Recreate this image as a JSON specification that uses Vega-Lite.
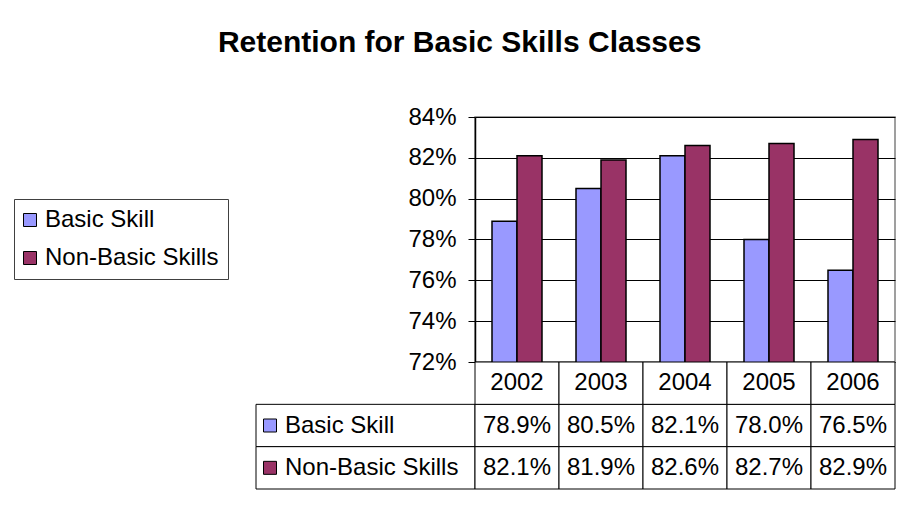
{
  "$schema": "https://vega.github.io/schema/vega-lite/v6.json",
  "padding": {"left": 13, "top": 28, "right": 12, "bottom": 10},
  "title": {"text": "Retention for Basic Skills Classes", "fontSize": 30, "fontWeight": "bold", "font": "Liberation Sans", "color": "black", "anchor": "middle", "frame": "bounds", "offset": 46, "dx": 5},
  "data": {"values": [
    {"year": "2002", "series": "Basic Skill", "value": 0.789},
    {"year": "2003", "series": "Basic Skill", "value": 0.805},
    {"year": "2004", "series": "Basic Skill", "value": 0.821},
    {"year": "2005", "series": "Basic Skill", "value": 0.780},
    {"year": "2006", "series": "Basic Skill", "value": 0.765},
    {"year": "2002", "series": "Non-Basic Skills", "value": 0.821},
    {"year": "2003", "series": "Non-Basic Skills", "value": 0.819},
    {"year": "2004", "series": "Non-Basic Skills", "value": 0.826},
    {"year": "2005", "series": "Non-Basic Skills", "value": 0.827},
    {"year": "2006", "series": "Non-Basic Skills", "value": 0.829}
  ]},
  "columns": 2,
  "spacing": 0,
  "bounds": "flush",
  "config": {"view": {"stroke": null}, "font": "Liberation Sans"},
  "concat": [
    {
      "width": 219, "height": 245,
      "mark": {"type": "text", "text": ""},
      "encoding": {}
    },
    {
      "width": 420, "height": 245,
      "view": {"stroke": "#808080", "strokeWidth": 1.5},
      "mark": {"type": "bar", "stroke": "black", "strokeWidth": 1.5, "clip": true},
      "encoding": {
        "x": {"field": "year", "type": "ordinal", "scale": {"paddingInner": 0, "paddingOuter": 0}, "axis": null},
        "xOffset": {"field": "series", "type": "nominal", "scale": {"domain": ["Basic Skill", "Non-Basic Skills"], "paddingInner": 0, "paddingOuter": 0.68}},
        "y": {"field": "value", "type": "quantitative", "scale": {"domain": [0.72, 0.84], "zero": false, "nice": false},
          "axis": {"title": null, "format": ".0%", "values": [0.72, 0.74, 0.76, 0.78, 0.80, 0.82, 0.84], "grid": true, "gridColor": "black", "gridWidth": 1, "gridOpacity": 1, "domainColor": "black", "domainWidth": 1.5, "tickColor": "black", "tickSize": 7, "labelFontSize": 24, "labelColor": "black", "labelFont": "Liberation Sans", "labelPadding": 12}},
        "color": {"field": "series", "type": "nominal", "scale": {"domain": ["Basic Skill", "Non-Basic Skills"], "range": ["#9999FF", "#993366"]},
          "legend": {"orient": "none", "legendX": -242, "legendY": 82, "title": null, "labelFontSize": 24, "labelFont": "Liberation Sans", "labelColor": "black", "labelLimit": 400, "symbolType": "square", "symbolSize": 169, "symbolStrokeColor": "black", "symbolStrokeWidth": 1, "symbolOpacity": 1, "symbolOffset": -5, "strokeColor": "#404040", "fillColor": "white", "padding": 9, "rowPadding": 14, "labelOffset": 3}}
      }
    },
    {
      "width": 219, "height": 127,
      "transform": [{"aggregate": [{"op": "count", "as": "n"}], "groupby": ["series"]}],
      "layer": [
        {
          "mark": {"type": "rect", "fill": "white", "stroke": "black", "strokeWidth": 1},
          "encoding": {"y": {"field": "series", "type": "nominal", "scale": {"domain": ["header", "Basic Skill", "Non-Basic Skills"], "paddingInner": 0, "paddingOuter": 0}, "axis": null}}
        },
        {
          "mark": {"type": "square", "size": 169, "opacity": 1, "stroke": "black", "strokeWidth": 1},
          "encoding": {
            "x": {"value": 14},
            "y": {"field": "series", "type": "nominal", "scale": {"domain": ["header", "Basic Skill", "Non-Basic Skills"], "paddingInner": 0, "paddingOuter": 0}, "axis": null},
            "color": {"field": "series", "type": "nominal", "scale": {"domain": ["Basic Skill", "Non-Basic Skills"], "range": ["#9999FF", "#993366"]}, "legend": null}
          }
        },
        {
          "mark": {"type": "text", "align": "left", "baseline": "middle", "fontSize": 24, "color": "black", "font": "Liberation Sans"},
          "encoding": {
            "x": {"value": 29},
            "y": {"field": "series", "type": "nominal", "scale": {"domain": ["header", "Basic Skill", "Non-Basic Skills"], "paddingInner": 0, "paddingOuter": 0}, "axis": null},
            "text": {"field": "series"}
          }
        }
      ],
      "resolve": {"scale": {"color": "independent"}}
    },
    {
      "width": 420, "height": 127,
      "layer": [
        {
          "mark": {"type": "rect", "fill": "white", "stroke": "black", "strokeWidth": 1},
          "encoding": {
            "x": {"field": "year", "type": "ordinal", "scale": {"paddingInner": 0, "paddingOuter": 0}, "axis": null},
            "y": {"field": "series", "type": "nominal", "scale": {"domain": ["header", "Basic Skill", "Non-Basic Skills"], "paddingInner": 0, "paddingOuter": 0}, "axis": null}
          }
        },
        {
          "mark": {"type": "text", "align": "center", "baseline": "middle", "fontSize": 24, "color": "black", "font": "Liberation Sans"},
          "encoding": {
            "x": {"field": "year", "type": "ordinal", "axis": null},
            "y": {"field": "series", "type": "nominal", "axis": null},
            "text": {"field": "value", "format": ".1%"}
          }
        },
        {
          "transform": [{"filter": "datum.series === 'Basic Skill'"}],
          "mark": {"type": "rect", "fill": "white", "stroke": "black", "strokeWidth": 1},
          "encoding": {
            "x": {"field": "year", "type": "ordinal", "axis": null},
            "y": {"datum": "header", "type": "nominal", "axis": null}
          }
        },
        {
          "transform": [{"filter": "datum.series === 'Basic Skill'"}],
          "mark": {"type": "text", "align": "center", "baseline": "middle", "fontSize": 24, "color": "black", "font": "Liberation Sans"},
          "encoding": {
            "x": {"field": "year", "type": "ordinal", "axis": null},
            "y": {"datum": "header", "type": "nominal", "axis": null},
            "text": {"field": "year"}
          }
        }
      ]
    }
  ]
}
